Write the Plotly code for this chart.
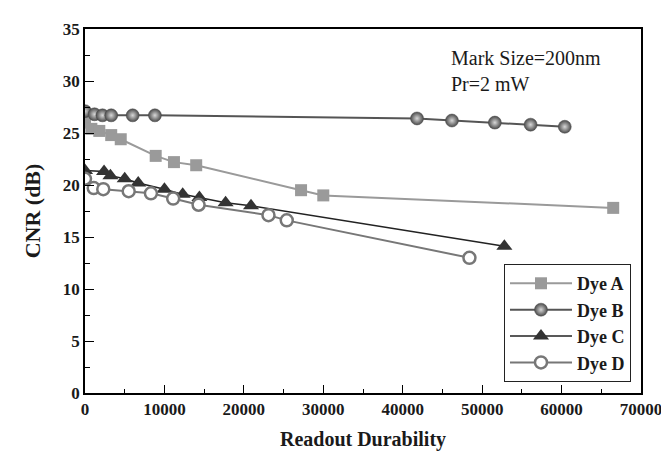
import plotly.graph_objects as go

# ---- data ----
dye_a_x = [0, 800, 1800, 3300, 4500, 8900, 11200, 14000, 27200, 30000, 66500]
dye_a_y = [26.0, 25.4, 25.2, 24.8, 24.4, 22.8, 22.2, 21.9, 19.5, 19.0, 17.8]

dye_b_x = [0, 1200, 2200, 3300, 6000, 8800, 41800, 46200, 51600, 56100, 60400]
dye_b_y = [27.1, 26.8, 26.7, 26.7, 26.7, 26.7, 26.4, 26.2, 26.0, 25.8, 25.6]

dye_c_x = [0, 2400, 3200, 5000, 6700, 10000, 12300, 14400, 17700, 20900, 52800]
dye_c_y = [21.4, 21.3, 20.9, 20.6, 20.2, 19.6, 19.1, 18.8, 18.3, 18.0, 14.1]

dye_d_x = [0, 1100, 2300, 5500, 8300, 11100, 14300, 23100, 25400, 48400]
dye_d_y = [20.6, 19.7, 19.6, 19.4, 19.2, 18.7, 18.1, 17.1, 16.6, 13.0]

series_names = ["Dye A", "Dye B", "Dye C", "Dye D"]
x_ticks = [0, 10000, 20000, 30000, 40000, 50000, 60000, 70000]
y_ticks = [0, 5, 10, 15, 20, 25, 30, 35]

FONT = "Liberation Serif, Times New Roman, serif"
TXT = "#1a1a1a"

fig = go.Figure()

fig.add_trace(go.Scatter(
    x=dye_a_x, y=dye_a_y, name="<b>" + series_names[0] + "</b>", mode="lines+markers",
    line=dict(color="#9a9a9a", width=2),
    marker=dict(symbol="square", size=12, color="#9a9a9a", line=dict(width=0)),
))
fig.add_trace(go.Scatter(
    x=dye_b_x, y=dye_b_y, name="<b>" + series_names[1] + "</b>", mode="lines+markers",
    line=dict(color="#555555", width=2),
    marker=dict(symbol="circle", size=13, color="#4a4a4a",
                gradient=dict(type="radial", color="#d8d8d8"),
                line=dict(color="#4a4a4a", width=0.5)),
))
fig.add_trace(go.Scatter(
    x=dye_c_x, y=dye_c_y, name="<b>" + series_names[2] + "</b>", mode="lines+markers",
    line=dict(color="#222222", width=1.5),
    marker=dict(symbol="triangle-up", size=14, color="#333333", line=dict(width=0)),
))
fig.add_trace(go.Scatter(
    x=dye_d_x, y=dye_d_y, name="<b>" + series_names[3] + "</b>", mode="lines+markers",
    line=dict(color="#777777", width=2),
    marker=dict(symbol="circle", size=12, color="white",
                line=dict(color="#777777", width=2.5)),
))

fig.add_annotation(
    x=0.655, y=0.955, xref="paper", yref="paper", xanchor="left", yanchor="top",
    align="left", showarrow=False,
    text="Mark Size=200nm<br>Pr=2 mW",
    font=dict(family=FONT, size=20, color=TXT),
)

axis_common = dict(
    showline=True, linecolor="black", linewidth=1.5, mirror=True,
    ticks="inside", tickcolor="black", tickwidth=1.2,
    showgrid=False, zeroline=False,
    tickfont=dict(family=FONT, size=17, color=TXT),
)

fig.update_xaxes(
    range=[0, 70000], tickvals=x_ticks, ticktext=["<b>%d</b>" % v for v in x_ticks],
    ticklen=8,
    minor=dict(dtick=5000, tick0=0, ticks="inside", ticklen=4, tickcolor="black", tickwidth=1.2),
    title=dict(text="<b>Readout Durability</b>", font=dict(family=FONT, size=20, color=TXT), standoff=14),
    **axis_common,
)
fig.update_yaxes(
    range=[0, 35], tickvals=y_ticks, ticktext=["<b>%d</b>" % v for v in y_ticks],
    ticklen=9,
    minor=dict(dtick=2.5, tick0=0, ticks="inside", ticklen=5, tickcolor="black", tickwidth=1.2),
    title=dict(text="<b>CNR (dB)</b>", font=dict(family=FONT, size=22, color=TXT), standoff=16),
    **axis_common,
)

fig.update_layout(
    width=669, height=452,
    margin=dict(l=77, r=36, t=14, b=67),
    paper_bgcolor="white", plot_bgcolor="white",
    showlegend=True,
    legend=dict(
        x=0.982, y=0.03, xanchor="right", yanchor="bottom",
        bgcolor="white", bordercolor="#222222", borderwidth=1,
        font=dict(family=FONT, size=18, color=TXT),
        itemwidth=62, tracegroupgap=0,
    ),
)

fig.write_html("out.html")
